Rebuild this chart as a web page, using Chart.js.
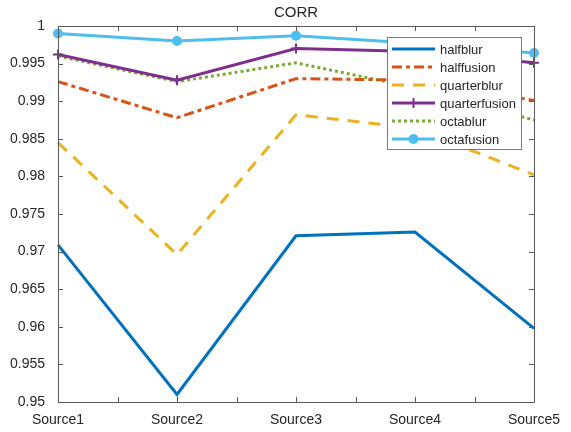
<!DOCTYPE html>
<html>
<head>
<meta charset="utf-8">
<script src="https://cdn.jsdelivr.net/npm/chart.js@4/dist/chart.umd.min.js"></script>
<style>
  html, body { margin: 0; padding: 0; background: #fff; }
  canvas { display: block; }
</style>
</head>
<body>
<canvas id="corrChart" width="571" height="432"></canvas>
<script>
// ===== DATA =====
const categories = ['Source1', 'Source2', 'Source3', 'Source4', 'Source5'];
const halfblur      = [0.9709, 0.9510, 0.9721, 0.9726, 0.9598];
const halffusion    = [0.9926, 0.9878, 0.9930, 0.9928, 0.9901];
const quarterblur   = [0.9845, 0.9696, 0.9882, 0.9864, 0.9802];
const quarterfusion = [0.9962, 0.9928, 0.9970, 0.9966, 0.9951];
const octablur      = [0.9960, 0.9926, 0.9951, 0.9918, 0.9875];
const octafusion    = [0.9990, 0.9980, 0.9987, 0.9977, 0.9964];
const yTicks = [0.95, 0.955, 0.96, 0.965, 0.97, 0.975, 0.98, 0.985, 0.99, 0.995, 1];

const textColor = '#262626';
const axisColor = '#5a5a5a';
const fontFamily = '"Liberation Sans", Arial, Helvetica, sans-serif';

// line styles, matlab-ish
const series = [
    { label: 'halfblur',      data: halfblur,      color: '#0072BD', dash: [] },
    { label: 'halffusion',    data: halffusion,    color: '#D95319', dash: [10, 4, 4, 4] },
    { label: 'quarterblur',   data: quarterblur,   color: '#EDB120', dash: [12, 9] },
    { label: 'quarterfusion', data: quarterfusion, color: '#7E2F8E', dash: [], marker: 'cross' },
    { label: 'octablur',      data: octablur,      color: '#77AC30', dash: [3, 3] },
    { label: 'octafusion',    data: octafusion,    color: '#4DBEEE', dash: [], marker: 'circle' }
];

// box, inward ticks, title and legend
const matlabAxes = {
    id: 'matlabAxes',
    afterDatasetsDraw(chart) {
        const ctx = chart.ctx;
        const a = chart.chartArea;
        const xs = chart.scales.x;
        const ys = chart.scales.y;
        const tl = 5;

        ctx.save();
        ctx.strokeStyle = axisColor;
        ctx.lineWidth = 1;
        ctx.beginPath();
        ctx.rect(Math.round(a.left) + 0.5, Math.round(a.top) + 0.5,
                 Math.round(a.right - a.left), Math.round(a.bottom - a.top));
        ctx.stroke();

        // x ticks at categories and half steps
        ctx.beginPath();
        for (let i = 0; i < categories.length; i++) {
            const px = [xs.getPixelForValue(i)];
            if (i < categories.length - 1) {
                px.push((xs.getPixelForValue(i) + xs.getPixelForValue(i + 1)) / 2);
            }
            px.forEach(p => {
                const x = Math.round(p) + 0.5;
                ctx.moveTo(x, a.bottom); ctx.lineTo(x, a.bottom - tl);
                ctx.moveTo(x, a.top); ctx.lineTo(x, a.top + tl);
            });
        }
        // y ticks
        yTicks.forEach(v => {
            const y = Math.round(ys.getPixelForValue(v)) + 0.5;
            ctx.moveTo(a.left, y); ctx.lineTo(a.left + tl, y);
            ctx.moveTo(a.right, y); ctx.lineTo(a.right - tl, y);
        });
        ctx.stroke();

        // title
        ctx.fillStyle = textColor;
        ctx.font = '15px ' + fontFamily;
        ctx.textAlign = 'center';
        ctx.textBaseline = 'middle';
        ctx.fillText('CORR', (a.left + a.right) / 2, 13);

        // legend
        const lx = 387, ly = 37, lw = 134, lh = 112;
        ctx.fillStyle = '#fff';
        ctx.fillRect(lx, ly, lw, lh);
        ctx.strokeStyle = '#7a7a7a';
        ctx.strokeRect(lx + 0.5, ly + 0.5, lw, lh);
        ctx.font = '13px ' + fontFamily;
        ctx.textAlign = 'left';
        series.forEach((s, i) => {
            const y = 49 + i * 18;
            ctx.strokeStyle = s.color;
            ctx.lineWidth = 3;
            ctx.setLineDash(s.dash);
            ctx.beginPath();
            ctx.moveTo(392, y); ctx.lineTo(435, y);
            ctx.stroke();
            ctx.setLineDash([]);
            if (s.marker === 'cross') {
                ctx.lineWidth = 2;
                ctx.beginPath();
                ctx.moveTo(413.5, y - 5); ctx.lineTo(413.5, y + 5);
                ctx.moveTo(408.5, y); ctx.lineTo(418.5, y);
                ctx.stroke();
            } else if (s.marker === 'circle') {
                ctx.fillStyle = s.color;
                ctx.beginPath();
                ctx.arc(413.5, y, 5, 0, Math.PI * 2);
                ctx.fill();
            }
            ctx.fillStyle = textColor;
            ctx.fillText(s.label, 440, y + 1);
        });
        ctx.restore();
    }
};

new Chart(document.getElementById('corrChart'), {
    type: 'line',
    data: {
        labels: categories,
        datasets: series.map(s => ({
            label: s.label,
            data: s.data,
            borderColor: s.color,
            backgroundColor: s.color,
            borderWidth: 3,
            borderDash: s.dash,
            borderCapStyle: 'butt',
            fill: false,
            tension: 0,
            pointStyle: s.marker || 'circle',
            pointRadius: s.marker === 'circle' ? 5 : (s.marker === 'cross' ? 5 : 0),
            pointBorderWidth: s.marker === 'cross' ? 2 : 0,
            pointBackgroundColor: s.color,
            pointBorderColor: s.color
        }))
    },
    options: {
        responsive: false,
        animation: false,
        devicePixelRatio: 1,
        layout: { padding: { top: 26, right: 37, bottom: 0, left: 0 } },
        plugins: {
            legend: { display: false },
            title: { display: false },
            tooltip: { enabled: false }
        },
        scales: {
            x: {
                type: 'category',
                offset: false,
                grid: { display: false },
                border: { display: false },
                ticks: {
                    color: textColor,
                    font: { family: fontFamily, size: 14 },
                    padding: 2,
                    maxRotation: 0,
                    autoSkip: false
                },
                afterFit(scale) { scale.height = 30; }
            },
            y: {
                min: 0.95,
                max: 1,
                grid: { display: false },
                border: { display: false },
                afterBuildTicks(scale) {
                    scale.ticks = yTicks.map(v => ({ value: v }));
                },
                ticks: {
                    color: textColor,
                    font: { family: fontFamily, size: 14 },
                    padding: 5,
                    callback: v => String(parseFloat(Number(v).toFixed(3)))
                },
                afterFit(scale) { scale.width = 58; }
            }
        }
    },
    plugins: [matlabAxes]
});
</script>
</body>
</html>
